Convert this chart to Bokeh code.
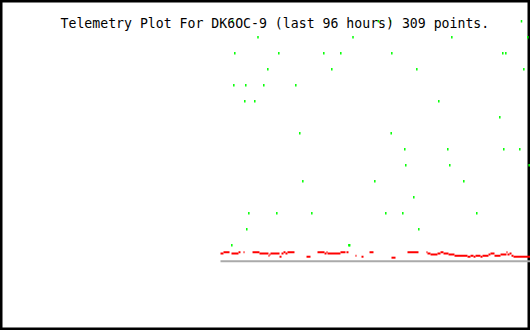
from bokeh.plotting import figure
from bokeh.models import Range1d, Label, ColumnDataSource
from bokeh.embed import file_html
from bokeh.resources import INLINE

TITLE = "Telemetry Plot For DK6OC-9 (last 96 hours) 309 points."
WINDOW_HOURS = 96

# Red series, as runs of constant value: start hour, end hour, value
red_start = [39.85, 40.39, 41.84, 43.11, 44.02, 45.65, 46.91, 48.54, 48.72, 48.91,
             50.54, 50.90, 51.26, 51.62, 51.98, 55.43, 57.42, 58.69, 59.05, 59.23,
             61.58, 62.67, 64.30, 65.39, 66.84, 70.82, 73.72, 77.16, 77.34, 77.89,
             79.15, 79.70, 80.24, 81.15, 82.23, 84.59, 85.13, 85.68, 86.04, 86.94,
             87.31, 88.39, 88.75, 89.48, 90.57, 91.65, 91.83, 92.20, 92.56, 92.92]
red_end = [40.39, 41.48, 43.11, 43.47, 44.20, 46.91, 48.54, 48.72, 48.91, 50.54,
           50.90, 51.26, 51.62, 51.98, 53.25, 56.15, 58.69, 59.05, 59.23, 61.58,
           62.49, 63.03, 64.48, 65.75, 67.56, 71.55, 75.71, 77.34, 77.89, 79.15,
           79.70, 80.24, 81.15, 82.23, 84.59, 85.13, 85.68, 86.04, 86.94, 87.31,
           88.39, 88.75, 89.48, 90.57, 91.65, 91.83, 92.20, 92.56, 92.92, 96.00]
red_value = [0.48, 0.56, 0.48, 0.56, 0.56, 0.56, 0.48, 0.34, 0.42, 0.48,
             0.28, 0.48, 0.56, 0.48, 0.56, 0.28, 0.56, 0.48, 0.56, 0.48,
             0.56, 0.56, 0.34, 0.28, 0.56, 0.22, 0.56, 0.56, 0.48, 0.42,
             0.48, 0.56, 0.48, 0.42, 0.34, 0.28, 0.34, 0.28, 0.34, 0.28,
             0.34, 0.42, 0.48, 0.34, 0.42, 0.56, 0.42, 0.48, 0.34, 0.28]

# Green series: hour, value
green_hours = [42.02, 68.47, 70.64, 94.37,
               46.64, 63.85, 81.75, 95.51,
               42.44, 50.41, 58.56, 61.64, 70.88, 90.98, 91.53,
               48.42, 60.01, 75.41, 94.79,
               42.26, 44.43, 47.69, 53.49,
               44.25, 46.06, 79.39,
               90.44,
               54.21, 70.77,
               73.23, 81.02, 91.16, 94.06,
               73.41, 81.38, 95.76,
               54.76, 67.80, 83.92,
               74.86,
               44.98, 50.05, 56.39, 69.79, 72.87, 86.27,
               44.61, 75.77,
               41.90, 63.10, 63.25]
green_value = [15, 15, 15, 15,
               14, 14, 14, 14,
               13, 13, 13, 13, 13, 13, 13,
               12, 12, 12, 12,
               11, 11, 11, 11,
               10, 10, 10,
               9,
               8, 8,
               7, 7, 7, 7,
               6, 6, 6,
               5, 5, 5,
               4,
               3, 3, 3, 3, 3, 3,
               2, 2,
               1, 1, 1]

W, H = 530, 330
p = figure(width=W, height=H, output_backend="svg", toolbar_location=None,
           x_range=Range1d(0, WINDOW_HOURS), y_range=Range1d(-4.33, 16.29),
           x_axis_type=None, y_axis_type=None, min_border=0,
           background_fill_color="white", border_fill_color="white")
p.grid.visible = False
p.outline_line_color = "black"
p.outline_line_width = 4

# baseline
p.segment(x0=[red_start[0]], x1=[WINDOW_HOURS], y0=[0], y1=[0],
          line_color="#aaaaaa", line_width=2)

rsrc = ColumnDataSource(dict(x0=red_start, x1=red_end, y=red_value))
p.segment(x0="x0", x1="x1", y0="y", y1="y", source=rsrc,
          line_color="#ff0000", line_width=2, line_cap="butt")

gsrc = ColumnDataSource(dict(x=green_hours, y=green_value))
p.rect(x="x", y="y", width=1.5, height=2.5, width_units="screen", height_units="screen",
       source=gsrc, fill_color="#00ff00", line_color=None)

p.add_layout(Label(x=60, y=H - 22.5, x_units="screen", y_units="screen", text=TITLE,
                   text_font="DejaVu Sans Mono", text_font_size="13.2px",
                   text_color="black", text_align="left", text_baseline="alphabetic"))

open("out.html", "w").write(file_html(p, INLINE))
